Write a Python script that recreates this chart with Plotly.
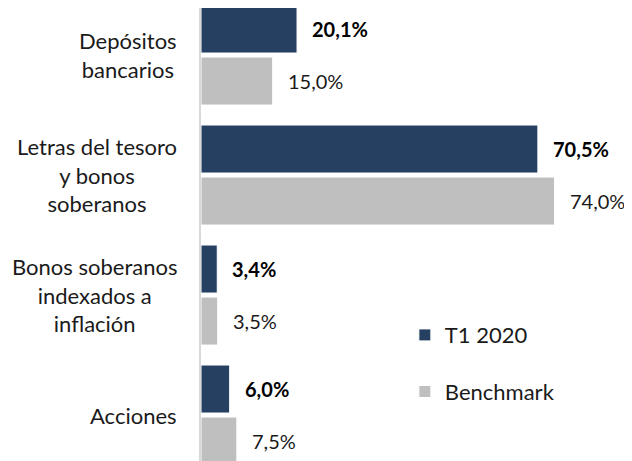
import plotly.graph_objects as go

categories = ["Depósitos bancarios", "Letras del tesoro y bonos soberanos",
              "Bonos soberanos indexados a inflación", "Acciones"]
category_labels = ["Depósitos<br>bancarios", "Letras del tesoro<br>y bonos<br>soberanos",
                   "Bonos soberanos<br>indexados a<br>inflación", "Acciones"]
t1_2020 = [20.1, 70.5, 3.4, 6.0]
benchmark = [15.0, 74.0, 3.5, 7.5]
series_names = ["T1 2020", "Benchmark"]

NAVY = "#264061"
GRAY = "#BFBFBF"
FONT = "Lato"

def fmt(v):
    return f"{v:.1f}".replace(".", ",") + "%"

fig = go.Figure()
fig.add_trace(go.Bar(y=categories, x=t1_2020, orientation="h", name=series_names[0],
                     marker=dict(color=NAVY, line=dict(color="#FFFFFF", width=1)),
                     legendgroup="a", hoverinfo="skip"))
fig.add_trace(go.Bar(y=categories, x=benchmark, orientation="h", name=series_names[1],
                     marker=dict(color=GRAY, line=dict(color="#FFFFFF", width=1)),
                     legendgroup="b", hoverinfo="skip"))

annotations = []
off = 0.2167
for i, (a, b) in enumerate(zip(t1_2020, benchmark)):
    annotations.append(dict(x=a, y=i - off, xref="x", yref="y", text=f"<b>{fmt(a)}</b>",
                            showarrow=False, xanchor="left", yanchor="middle", xshift=13,
                            font=dict(family=FONT, size=20, color="#000000")))
    annotations.append(dict(x=b, y=i + off, xref="x", yref="y", text=fmt(b),
                            showarrow=False, xanchor="left", yanchor="middle", xshift=13,
                            font=dict(family=FONT, size=20, color="#1a1a1a")))
for i, lab in enumerate(category_labels):
    annotations.append(dict(x=0, y=i, xref="paper", yref="y", text=lab, showarrow=False,
                            xanchor="right", yanchor="middle", align="center", xshift=-22,
                            font=dict(family=FONT, size=22, color="#1a1a1a")))

fig.update_layout(
    width=624, height=453,
    margin=dict(l=193, r=0, t=0, b=0),
    paper_bgcolor="white", plot_bgcolor="white",
    barmode="group", bargap=0.133, bargroupgap=0.077,
    showlegend=True,
    legend=dict(x=0.473, y=0.215, xanchor="left", yanchor="middle",
                font=dict(family=FONT, size=22, color="#1a1a1a"),
                tracegroupgap=25, bgcolor="rgba(0,0,0,0)", traceorder="grouped"),
    xaxis=dict(range=[0, 90.2], visible=False, showgrid=False, zeroline=False),
    yaxis=dict(range=[3.383, -0.392], showticklabels=False, showgrid=False,
               zeroline=False, showline=True, linecolor="#D9D9D9", linewidth=2, ticks=""),
    annotations=annotations,
)

fig.write_html("out.html")
